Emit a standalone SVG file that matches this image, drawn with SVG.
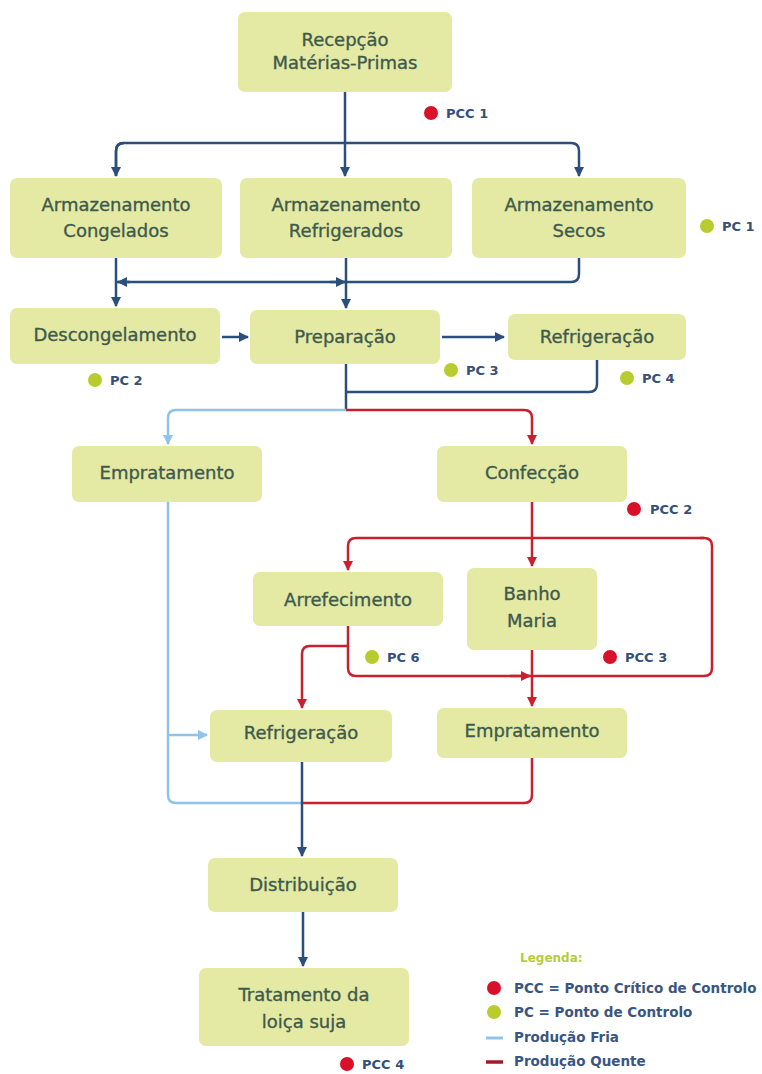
<svg xmlns="http://www.w3.org/2000/svg" width="762" height="1074" viewBox="0 0 762 1074">
<style>
.box{fill:#e4e9a3}
.t{font-family:"DejaVu Sans",Verdana,sans-serif;font-size:18px;fill:#3e5a4d;stroke:#3e5a4d;stroke-width:0.35;text-anchor:middle}
.lb{font-family:"DejaVu Sans",Verdana,sans-serif;font-size:13px;font-weight:bold;fill:#34507a}
.lg{font-family:"DejaVu Sans",Verdana,sans-serif;font-size:13.5px;font-weight:bold;fill:#3a5580}
.cd{fill:none;stroke:#2b4f7a;stroke-width:2.5}
.cl{fill:none;stroke:#8fc4ea;stroke-width:2.5}
.cr{fill:none;stroke:#c8202f;stroke-width:2.5}
.pcc{fill:#d8102a}
.pc{fill:#b9cc2e}
</style>
<defs>
<marker id="ad" viewBox="0 0 10 10" refX="9" refY="5" markerWidth="10" markerHeight="10" markerUnits="userSpaceOnUse" orient="auto"><path d="M0,0 L10,5 L0,10 z" fill="#2b4f7a"/></marker>
<marker id="al" viewBox="0 0 10 10" refX="9" refY="5" markerWidth="10" markerHeight="10" markerUnits="userSpaceOnUse" orient="auto"><path d="M0,0 L10,5 L0,10 z" fill="#8fc4ea"/></marker>
<marker id="ar" viewBox="0 0 10 10" refX="9" refY="5" markerWidth="10" markerHeight="10" markerUnits="userSpaceOnUse" orient="auto"><path d="M0,0 L10,5 L0,10 z" fill="#c8202f"/></marker>
</defs>
<rect width="762" height="1074" fill="#ffffff"/>

<g id="connectors">
<path class="cd" d="M345,92 V176" marker-end="url(#ad)"/>
<path class="cd" d="M116,176 V151 Q116,143 124,143 H571 Q579,143 579,151 V176" marker-end="url(#ad)"/>
<path class="cd" d="M124,143 Q116,143 116,151 V176" marker-end="url(#ad)"/>
<path class="cd" d="M116,258 V306" marker-end="url(#ad)"/>
<path class="cd" d="M346,258 V308" marker-end="url(#ad)"/>
<path class="cd" d="M579,258 V274 Q579,282 571,282 H116"/>
<path class="cd" d="M130,282 H118" marker-end="url(#ad)"/>
<path class="cd" d="M330,282 H345" marker-end="url(#ad)"/>
<path class="cd" d="M222,337 H248" marker-end="url(#ad)"/>
<path class="cd" d="M442,337 H504" marker-end="url(#ad)"/>
<path class="cd" d="M346,364 V410"/>
<path class="cd" d="M597,360 V384 Q597,392 589,392 H346"/>
<path class="cl" d="M346,410 H176 Q168,410 168,418 V444" marker-end="url(#al)"/>
<path class="cr" d="M346,410 H524 Q532,410 532,418 V444" marker-end="url(#ar)"/>
<path class="cr" d="M532,502 V566" marker-end="url(#ar)"/>
<path class="cr" d="M704,538 H356 Q348,538 348,546 V570" marker-end="url(#ar)"/>
<path class="cr" d="M700,538 H704 Q712,538 712,546 V668 Q712,676 704,676 H356 Q348,676 348,668 V626"/>
<path class="cr" d="M510,676 H530" marker-end="url(#ar)"/>
<path class="cr" d="M348,646 H310 Q302,646 302,654 V708" marker-end="url(#ar)"/>
<path class="cr" d="M532,650 V706" marker-end="url(#ar)"/>
<path class="cl" d="M168,502 V795 Q168,803 176,803 H302"/>
<path class="cl" d="M168,735 H207" marker-end="url(#al)"/>
<path class="cr" d="M532,758 V795 Q532,803 524,803 H302"/>
<path class="cd" d="M302,762 V856" marker-end="url(#ad)"/>
<path class="cd" d="M303,912 V966" marker-end="url(#ad)"/>
</g>

<g id="n-recepcao"><rect class="box" x="238" y="12" width="214" height="80" rx="7"/><text class="t" x="345" y="46">Recepção</text><text class="t" x="345" y="69">Matérias-Primas</text></g>
<g id="n-congelados"><rect class="box" x="10" y="178" width="212" height="80" rx="7"/><text class="t" x="116" y="211">Armazenamento</text><text class="t" x="116" y="237">Congelados</text></g>
<g id="n-refrigerados"><rect class="box" x="240" y="178" width="212" height="80" rx="7"/><text class="t" x="346" y="211">Armazenamento</text><text class="t" x="346" y="237">Refrigerados</text></g>
<g id="n-secos"><rect class="box" x="472" y="178" width="214" height="80" rx="7"/><text class="t" x="579" y="211">Armazenamento</text><text class="t" x="579" y="237">Secos</text></g>
<g id="n-descongelamento"><rect class="box" x="10" y="308" width="210" height="56" rx="7"/><text class="t" x="115" y="341">Descongelamento</text></g>
<g id="n-preparacao"><rect class="box" x="250" y="310" width="190" height="54" rx="7"/><text class="t" x="345" y="343">Preparação</text></g>
<g id="n-refrigeracao1"><rect class="box" x="508" y="314" width="178" height="46" rx="7"/><text class="t" x="597" y="343">Refrigeração</text></g>
<g id="n-empratamento1"><rect class="box" x="72" y="446" width="190" height="56" rx="7"/><text class="t" x="167" y="479">Empratamento</text></g>
<g id="n-confeccao"><rect class="box" x="437" y="446" width="190" height="56" rx="7"/><text class="t" x="532" y="479">Confecção</text></g>
<g id="n-arrefecimento"><rect class="box" x="253" y="572" width="190" height="54" rx="7"/><text class="t" x="348" y="606">Arrefecimento</text></g>
<g id="n-banhomaria"><rect class="box" x="467" y="568" width="130" height="82" rx="7"/><text class="t" x="532" y="600">Banho</text><text class="t" x="532" y="627">Maria</text></g>
<g id="n-refrigeracao2"><rect class="box" x="210" y="710" width="182" height="52" rx="7"/><text class="t" x="301" y="739">Refrigeração</text></g>
<g id="n-empratamento2"><rect class="box" x="437" y="708" width="190" height="50" rx="7"/><text class="t" x="532" y="737">Empratamento</text></g>
<g id="n-distribuicao"><rect class="box" x="208" y="858" width="190" height="54" rx="7"/><text class="t" x="303" y="891">Distribuição</text></g>
<g id="n-tratamento"><rect class="box" x="199" y="968" width="210" height="78" rx="7"/><text class="t" x="304" y="1001">Tratamento da</text><text class="t" x="304" y="1028">loiça suja</text></g>

<g id="points">
<circle class="pcc" cx="431" cy="113" r="7"/><text class="lb" x="446" y="118">PCC 1</text>
<circle class="pc" cx="707" cy="226" r="7"/><text class="lb" x="722" y="231">PC 1</text>
<circle class="pc" cx="95" cy="380" r="7"/><text class="lb" x="110" y="385">PC 2</text>
<circle class="pc" cx="451" cy="370" r="7"/><text class="lb" x="466" y="375">PC 3</text>
<circle class="pc" cx="627" cy="378" r="7"/><text class="lb" x="642" y="383">PC 4</text>
<circle class="pcc" cx="634" cy="509" r="7"/><text class="lb" x="650" y="514">PCC 2</text>
<circle class="pc" cx="372" cy="657" r="7"/><text class="lb" x="387" y="662">PC 6</text>
<circle class="pcc" cx="610" cy="657" r="7"/><text class="lb" x="625" y="662">PCC 3</text>
<circle class="pcc" cx="347" cy="1064" r="7"/><text class="lb" x="362" y="1069">PCC 4</text>
</g>

<g id="legend">
<text x="520" y="962" style="font-family:'DejaVu Sans',sans-serif;font-size:12px;font-weight:bold;fill:#b6cc3a">Legenda:</text>
<circle class="pcc" cx="494" cy="988" r="7"/><text class="lg" x="514" y="993">PCC = Ponto Crítico de Controlo</text>
<circle class="pc" cx="494" cy="1012" r="7"/><text class="lg" x="514" y="1017">PC = Ponto de Controlo</text>
<line x1="486" y1="1038" x2="503" y2="1038" stroke="#8fc4ea" stroke-width="3"/><text class="lg" x="514" y="1042">Produção Fria</text>
<line x1="486" y1="1062" x2="503" y2="1062" stroke="#a01a2a" stroke-width="3.5"/><text class="lg" x="514" y="1066">Produção Quente</text>
</g>
</svg>
